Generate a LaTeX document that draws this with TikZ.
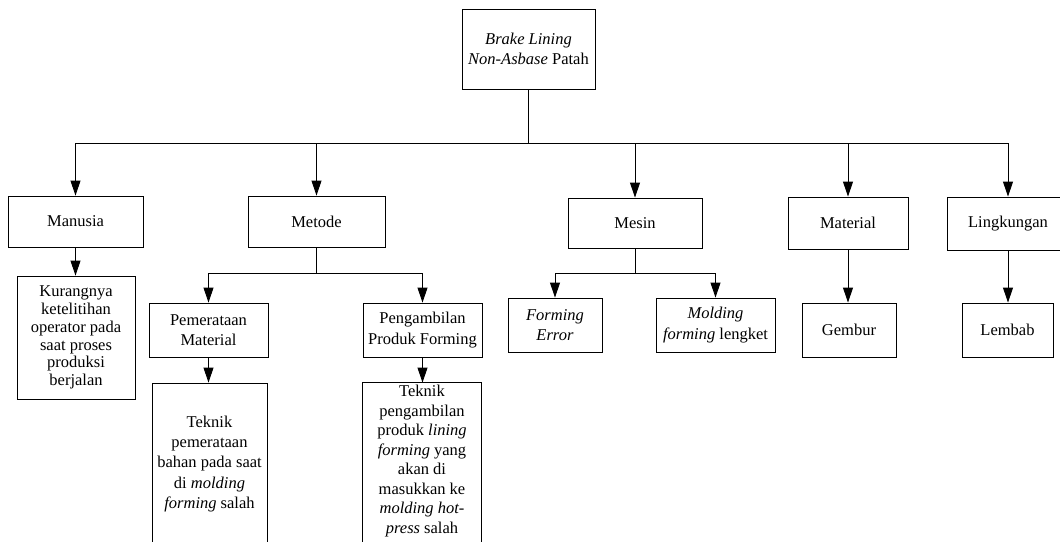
\documentclass[tikz,border=0pt]{standalone}
\usepackage{fontspec}
\setmainfont{Liberation Serif}
\usetikzlibrary{arrows.meta}
\tikzset{
  box/.style={draw, line width=0.9pt, inner sep=0pt, align=center,
    font=\fontsize{16.5}{20.3}\selectfont},
  tight/.style={font=\fontsize{16.5}{17.7}\selectfont},
  snug/.style={font=\fontsize{16.5}{19.5}\selectfont},
  conn/.style={line width=0.9pt},
  arr/.style={line width=0.9pt, -{Triangle[width=10pt,length=15pt]}}
}
\begin{document}
\begin{tikzpicture}[x=1pt,y=-1pt]
\useasboundingbox (0,0) rectangle (1060,541);
\clip (0,0) rectangle (1060,541);
% root
\node[box, minimum width=133pt, minimum height=80pt] (top) at (528.5,49)
  {\textit{Brake Lining}\\\textit{Non-Asbase} Patah};
% categories
\node[box, minimum width=135pt, minimum height=51pt] (man) at (75.5,221.5) {Manusia};
\node[box, minimum width=137pt, minimum height=51pt] (met) at (316.5,221.5) {Metode};
\node[box, minimum width=134pt, minimum height=50pt] (mes) at (635,223) {Mesin};
\node[box, minimum width=120pt, minimum height=52pt] (mat) at (848,223) {Material};
\node[box, minimum width=122pt, minimum height=53pt] (lin) at (1008,223.5) {Lingkungan};
% Manusia child
\node[box, tight, minimum width=118pt, minimum height=123pt] (kur) at (76,337.5)
  {Kurangnya\\ketelitihan\\operator pada\\saat proses\\produksi\\berjalan};
% Metode children
\node[box, minimum width=119pt, minimum height=54pt] (pem) at (208.5,330)
  {Pemerataan\\Material};
\node[box, minimum width=119pt, minimum height=54pt] (peng) at (422.5,330)
  {Pengambilan\\Produk Forming};
\node[box, minimum width=115pt, minimum height=162pt] (tek1) at (209.5,464)
  {Teknik\\pemerataan\\bahan pada saat\\di \textit{molding}\\\textit{forming} salah};
\node[box, snug, draw=none, minimum width=118pt, minimum height=156pt] (tek2) at (422,461)
  {Teknik\\pengambilan\\produk \textit{lining}\\\textit{forming} yang\\akan di\\masukkan ke\\\textit{molding hot-}\\\textit{press} salah};
\draw[conn] (tek2.north west) rectangle ([yshift=-8pt]tek2.south east);
% Mesin children
\node[box, minimum width=94pt, minimum height=54pt] (fe) at (555,325)
  {\textit{Forming}\\\textit{Error}};
\node[box, minimum width=119pt, minimum height=54pt] (mol) at (715.5,325)
  {\textit{Molding}\\\textit{forming} lengket};
% Material / Lingkungan children
\node[box, minimum width=94pt, minimum height=54pt] (gem) at (849,330) {Gembur};
\node[box, minimum width=91pt, minimum height=54pt] (lem) at (1007.5,330) {Lembab};
% bus
\coordinate (bus) at (528.5,143);
\draw[conn] (top.south) -- (bus);
\draw[conn] (bus -| man) -- (bus -| lin);
\foreach \n in {man,met,mes,mat,lin}
  \draw[arr] (bus -| \n) -- (\n.north);
% Metode split
\coordinate (msp) at (316.5,273);
\draw[conn] (met.south) -- (msp);
\draw[conn] (msp -| pem) -- (msp -| peng);
\draw[arr] (msp -| pem) -- (pem.north);
\draw[arr] (msp -| peng) -- (peng.north);
% Mesin split
\coordinate (ssp) at (635,273);
\draw[conn] (mes.south) -- (ssp);
\draw[conn] (ssp -| fe) -- (ssp -| mol);
\draw[arr] (ssp -| fe) -- (fe.north);
\draw[arr] (ssp -| mol) -- (mol.north);
% direct arrows
\draw[arr] (man.south) -- (man.south |- kur.north);
\draw[arr] (pem.south) -- (pem.south |- tek1.north);
\draw[arr] (peng.south) -- (peng.south |- tek2.north);
\draw[arr] (mat.south) -- (mat.south |- gem.north);
\draw[arr] (lin.south) -- (lin.south |- lem.north);
\end{tikzpicture}
\end{document}
